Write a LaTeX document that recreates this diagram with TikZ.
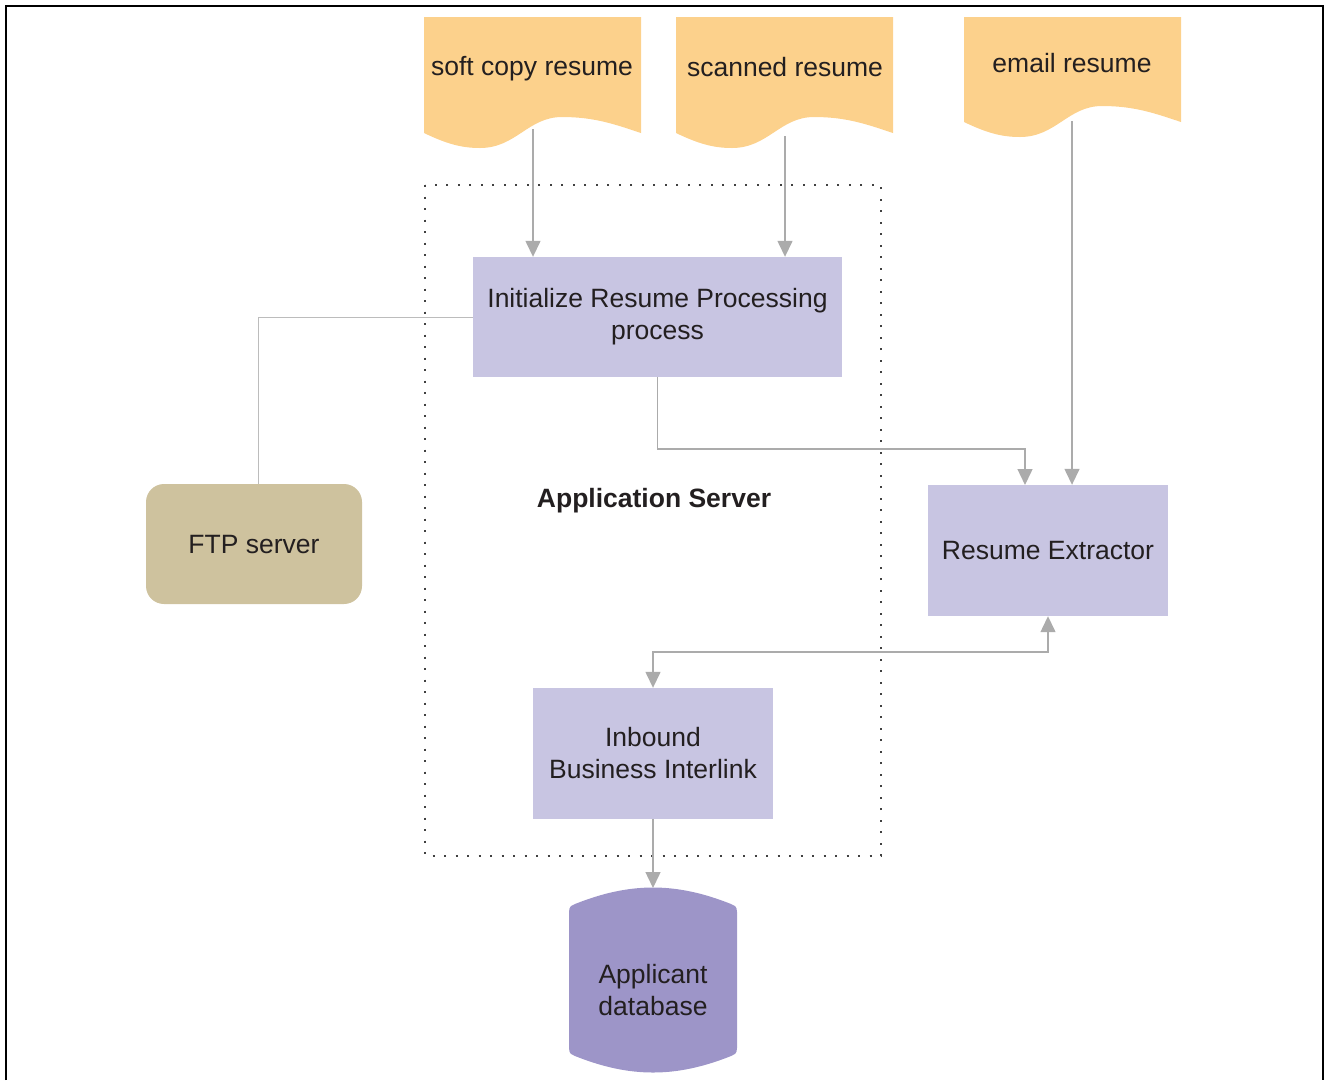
\documentclass[tikz,border=0pt]{standalone}
\usepackage{fontspec}
\setmainfont{Liberation Sans}
\usetikzlibrary{arrows.meta}
\definecolor{docfill}{HTML}{FCD18C}
\definecolor{boxfill}{HTML}{C8C5E2}
\definecolor{ftpfill}{HTML}{CEC29E}
\definecolor{dbfill}{HTML}{9D95C8}
\definecolor{txt}{HTML}{231F20}
\definecolor{conn}{HTML}{ABABAB}
\newcommand\docpath[3]{%
  \fill[docfill, shift={(#1,#2)}] (0,0) -- (217,0) -- (217,#3)
    .. controls (190,{#3-9}) and (170,{#3-16}) .. (138,{#3-16})
    .. controls (104,{#3-16}) and (92,{#3+15}) .. (56,{#3+15})
    .. controls (36,{#3+15}) and (21,{#3+10}) .. (0,#3) -- cycle;}
\begin{document}
\begin{tikzpicture}[x=1pt,y=-1pt,
  every node/.style={font=\fontsize{26.5}{32}\selectfont, text=txt, align=center},
  procbox/.style={fill=boxfill, minimum width=#1, inner sep=0pt},
  conline/.style={draw=conn, line width=1.4pt},
  arr/.style={conline, -{Triangle[width=15pt,length=16pt]}},
  darr/.style={conline, {Triangle[width=15pt,length=16pt]}-{Triangle[width=15pt,length=16pt]}}]
\useasboundingbox (0,0) rectangle (1329,1080);
% outer frame
\draw[line width=2pt, black] (6,1080) -- (6,6) -- (1323,6) -- (1323,1080);
% dotted application server boundary
\draw[line width=2pt, color=black!75, dash pattern=on 2pt off 9.5pt] (425,185) rectangle (881,856);
% document shapes
\docpath{424}{17}{116}
\docpath{676}{17}{116}
\docpath{964}{17}{105}
\node (soft) at (532,69) {soft copy resume};
\node (scan) at (785,67) {scanned resume};
\node (email) at (1072,63) {email resume};
\coordinate (softb) at (533,129);
\coordinate (scanb) at (785,136);
\coordinate (emailb) at (1072,121);
% process boxes
\node[procbox=369pt, minimum height=120pt] (init) at (657.5,317) {Initialize Resume Processing\\process};
\node[procbox=240pt, minimum height=131pt] (extr) at (1048,550.5) {Resume Extractor};
\node[procbox=240pt, minimum height=131pt] (inb) at (653,753.5) {Inbound\\Business Interlink};
\node[fill=ftpfill, rounded corners=18pt, minimum width=216pt, minimum height=120pt, inner sep=0pt] (ftp) at (254,544) {FTP server};
\node[font=\fontsize{26.5}{32}\selectfont\bfseries] (appsrv) at (654,501) {Application Server};
% database
\fill[dbfill] (569,912) .. controls (569,906) and (572,905) .. (575,904)
  .. controls (630,882) and (676,882) .. (731,904)
  .. controls (734,905) and (737,906) .. (737,912) -- (737,1048)
  .. controls (737,1054) and (734,1055) .. (731,1056)
  .. controls (676,1078) and (630,1078) .. (575,1056)
  .. controls (572,1055) and (569,1054) .. (569,1048) -- cycle;
\node[minimum width=168pt, minimum height=164pt, inner sep=0pt] (db) at (653,990) {Applicant\\database};
\coordinate (dbtop) at (653,888);
% connectors
\draw[arr] (softb) -- (softb |- init.north);
\draw[arr] (scanb) -- (scanb |- init.north);
\draw[arr] (emailb) -- (emailb |- extr.north);
\draw[arr] (init.south) |- (1025,449) -- (1025,485);
\draw[draw=conn!80, line width=1pt] (init.west) -| (ftp.north -| 258,0);
\draw[darr] (extr.south) |- (653,652) -- (inb.north);
\draw[arr] (inb.south) -- (dbtop);
\end{tikzpicture}
\end{document}
